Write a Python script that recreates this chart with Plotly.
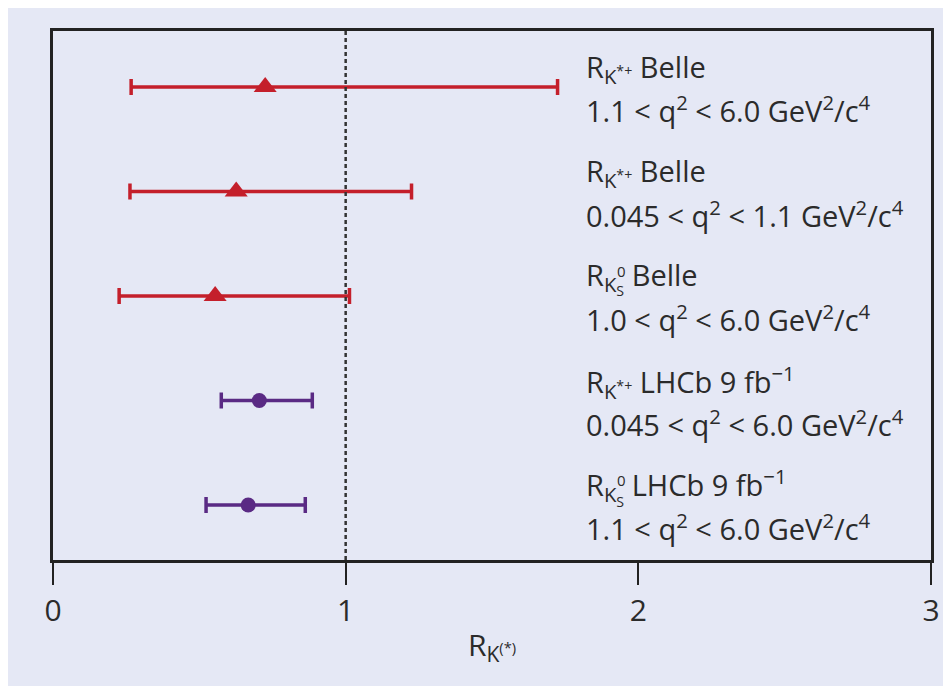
import plotly.graph_objects as go

# Data
labels_line1 = [
    "R<sub>K<sup>*+</sup></sub> Belle",
    "R<sub>K<sup>*+</sup></sub> Belle",
    "R<sub>K<sub>S</sub></sub> Belle",
    "R<sub>K<sup>*+</sup></sub> LHCb 9 fb<sup>−1</sup>",
    "R<sub>K<sub>S</sub></sub> LHCb 9 fb<sup>−1</sup>",
]
labels_line2 = [
    "1.1 < q<sup>2</sup> < 6.0 GeV<sup>2</sup>/c<sup>4</sup>",
    "0.045 < q<sup>2</sup> < 1.1 GeV<sup>2</sup>/c<sup>4</sup>",
    "1.0 < q<sup>2</sup> < 6.0 GeV<sup>2</sup>/c<sup>4</sup>",
    "0.045 < q<sup>2</sup> < 6.0 GeV<sup>2</sup>/c<sup>4</sup>",
    "1.1 < q<sup>2</sup> < 6.0 GeV<sup>2</sup>/c<sup>4</sup>",
]
rows = [5, 4, 3, 2, 1]
values = [0.725, 0.626, 0.554, 0.705, 0.667]
err_low = [0.267, 0.263, 0.226, 0.575, 0.523]
err_high = [1.724, 1.225, 1.013, 0.886, 0.862]
experiment = ["Belle", "Belle", "Belle", "LHCb", "LHCb"]
has_ks = [False, False, True, False, True]

tick_vals = [0, 1, 2, 3]
tick_text = ["0", "1", "2", "3"]

RED = "#c41f2b"
PURPLE = "#5a2a84"
BG = "#e5e8f5"
TXT = "#2b2b2b"
FONT = "Open Sans, Liberation Sans, Arial, sans-serif"
FS = 29

fig = go.Figure()

for exp, color, sym, size in [("Belle", RED, "triangle-up", 20), ("LHCb", PURPLE, "circle", 15)]:
    idx = [i for i, e in enumerate(experiment) if e == exp]
    fig.add_trace(go.Scatter(
        x=[values[i] for i in idx],
        y=[rows[i] for i in idx],
        mode="markers",
        marker=dict(symbol=sym, size=size, color=color, line=dict(width=0)),
        error_x=dict(
            type="data", symmetric=False,
            array=[err_high[i] - values[i] for i in idx],
            arrayminus=[values[i] - err_low[i] for i in idx],
            color=color, thickness=3.5, width=8,
        ),
        showlegend=False,
        hoverinfo="x",
    ))

annotations = []
for i in range(len(rows)):
    annotations.append(dict(
        x=1.815, y=rows[i], xref="x", yref="y", xanchor="left", yanchor="middle",
        text=labels_line1[i], showarrow=False, yshift=19,
        font=dict(size=FS, color=TXT, family=FONT),
    ))
    annotations.append(dict(
        x=1.815, y=rows[i], xref="x", yref="y", xanchor="left", yanchor="middle",
        text=labels_line2[i], showarrow=False, yshift=-22,
        font=dict(size=FS, color=TXT, family=FONT),
    ))
    if has_ks[i]:
        annotations.append(dict(
            x=1.815, y=rows[i], xref="x", yref="y", xanchor="left", yanchor="middle",
            text="0", showarrow=False, yshift=25, xshift=31,
            font=dict(size=15, color=TXT, family=FONT),
        ))

shapes = [
    dict(type="line", xref="x", yref="paper", x0=1, x1=1, y0=0, y1=1,
         line=dict(color="#333333", width=2.5, dash="4px,3px")),
]

fig.update_layout(
    width=943, height=678,
    margin=dict(l=45, r=20, t=23, b=126),
    paper_bgcolor=BG,
    plot_bgcolor=BG,
    font=dict(family=FONT, color=TXT),
    xaxis=dict(
        range=[0, 3], tickvals=tick_vals, ticktext=tick_text,
        ticks="outside", ticklen=22, tickwidth=2, tickcolor="#222222",
        showline=True, linecolor="#222222", linewidth=3, mirror=True,
        showgrid=False, zeroline=False,
        tickfont=dict(size=30, color=TXT),
        title=dict(text="R<sub>K<sup>(*)</sup></sub>", font=dict(size=30, color=TXT), standoff=6),
    ),
    yaxis=dict(
        range=[0.474, 5.536], showticklabels=False, ticks="",
        showline=True, linecolor="#222222", linewidth=3, mirror=True,
        showgrid=False, zeroline=False,
    ),
    annotations=annotations,
    shapes=shapes,
)

fig.write_html("out.html")
